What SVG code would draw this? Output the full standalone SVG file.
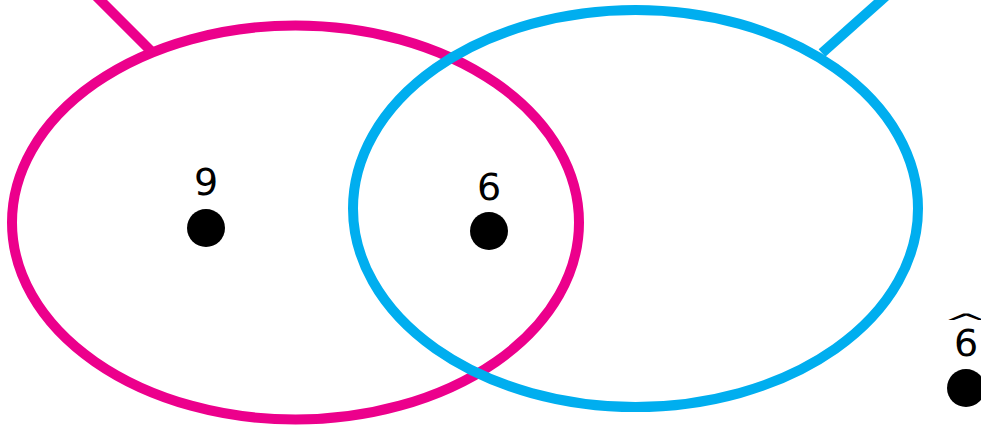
<svg xmlns="http://www.w3.org/2000/svg" width="981" height="428" viewBox="0 0 981 428">
<style>
.pink{fill:none;stroke:#EC008C;stroke-width:10}
.blue{fill:none;stroke:#00AEEF;stroke-width:10}
.dot{fill:#000}
.lbl{font-family:"DejaVu Sans","Liberation Sans",sans-serif;font-size:38px;fill:#000;text-anchor:middle}
</style>
<rect width="981" height="428" fill="#fff"/>
<g id="connectors">
<line class="pink" x1="96" y1="-4" x2="153" y2="53"/>
<line class="blue" x1="886" y1="-4" x2="822" y2="53"/>
</g>
<g id="setA"><ellipse class="pink" cx="295.5" cy="222.5" rx="283.5" ry="197"/></g>
<g id="setB"><ellipse class="blue" cx="635.5" cy="208.5" rx="282.5" ry="198.5"/></g>
<g id="node9"><text class="lbl" x="206" y="195">9</text><circle class="dot" cx="206" cy="228" r="19"/></g>
<g id="node6"><text class="lbl" x="489" y="200">6</text><circle class="dot" cx="489" cy="231" r="19"/></g>
<g id="node6hat"><text class="lbl" x="966" y="356">6</text><text class="lbl" transform="translate(966,331) scale(1.5,0.6)">^</text><circle class="dot" cx="966" cy="388" r="19"/></g>
</svg>
